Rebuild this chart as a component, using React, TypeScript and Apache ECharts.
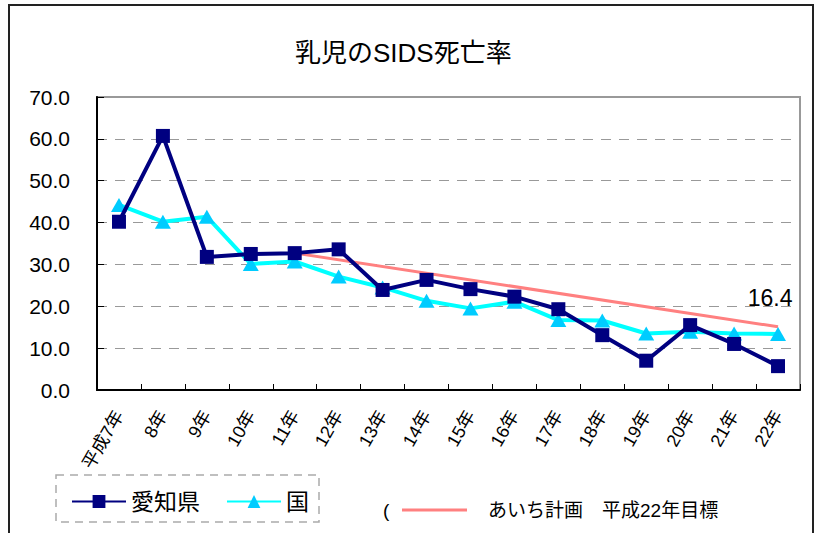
import React, { useEffect, useRef } from "react";
import * as echarts from "echarts";

const categories = ["平成7年", "8年", "9年", "10年", "11年", "12年", "13年", "14年", "15年", "16年", "17年", "18年", "19年", "20年", "21年", "22年"];
const aichi = [40.2, 60.7, 31.8, 32.5, 32.7, 33.6, 23.9, 26.3, 24.1, 22.3, 19.3, 13.1, 7.0, 15.5, 11.0, 5.7];
const national = [44.2, 40.2, 41.4, 30.1, 30.7, 27.1, 24.5, 21.3, 19.5, 21.1, 16.7, 16.6, 13.5, 13.9, 13.5, 13.4];
const target: (number | string)[] = ["-", "-", "-", "-", 32.7, "-", "-", "-", "-", "-", "-", "-", "-", "-", "-", 15.1];
const targetLabel = "16.4";
const yTicks = { min: 0, max: 70, interval: 10 };
const seriesNames = ["愛知県", "国"];
const targetName = "あいち計画　平成22年目標";

const FONT = "'Liberation Sans', 'Noto Sans CJK JP', sans-serif";

export default function App() {
  const ref = useRef<HTMLDivElement>(null);
  useEffect(() => {
    if (!ref.current) return;
    const chart = echarts.init(ref.current, null, { renderer: "svg" });
    const lastIdx = target.length - 1;
    chart.setOption({
      animation: false,
      backgroundColor: "#fff",
      textStyle: { fontFamily: FONT },
      title: {
        text: "乳児のSIDS死亡率",
        left: 290,
        top: 35,
        textStyle: { fontSize: 26, fontWeight: "normal", color: "#000", fontFamily: FONT },
      },
      grid: {
        left: 97,
        right: 20,
        top: 97,
        bottom: 143,
        show: true,
        borderColor: "#999",
        borderWidth: 2,
        outerBoundsMode: "none",
        containLabel: false,
      },
      legend: {
        data: seriesNames,
        left: 66,
        top: 485,
        itemWidth: 54,
        itemHeight: 16,
        itemGap: 26,
        textStyle: { fontSize: 23, color: "#000", fontFamily: FONT },
      },
      xAxis: {
        type: "category",
        data: categories,
        boundaryGap: true,
        axisLine: { lineStyle: { color: "#000", width: 2 } },
        axisTick: { show: true, inside: true, length: 6, lineStyle: { color: "#000" } },
        axisLabel: {
          interval: 0,
          rotate: 60,
          fontSize: 18,
          color: "#000",
          margin: 22,
          fontFamily: FONT,
        },
      },
      yAxis: {
        type: "value",
        min: yTicks.min,
        max: yTicks.max,
        interval: yTicks.interval,
        axisLine: { show: true, lineStyle: { color: "#000", width: 2 } },
        axisTick: { show: true, inside: true, length: 7, lineStyle: { color: "#000" } },
        axisLabel: {
          fontSize: 21,
          color: "#000",
          margin: 27,
          fontFamily: FONT,
          formatter: (v: number) => v.toFixed(1),
        },
        splitLine: { show: true, lineStyle: { color: "#999", type: [10, 8], width: 1 } },
      },
      series: [
        {
          name: targetName,
          type: "line",
          data: target,
          connectNulls: true,
          symbol: "none",
          lineStyle: { color: "#FF8080", width: 3 },
          itemStyle: { color: "#FF8080" },
          z: 1,
          markPoint: {
            symbol: "circle",
            symbolSize: 1,
            itemStyle: { color: "rgba(0,0,0,0)" },
            data: [
              {
                coord: [lastIdx, target[lastIdx]],
                label: {
                  show: true,
                  formatter: targetLabel,
                  position: "top",
                  distance: 5,
                  offset: [-8, -12],
                  fontSize: 23,
                  color: "#000",
                  fontFamily: FONT,
                },
              },
            ],
          },
        },
        {
          name: seriesNames[1],
          type: "line",
          data: national,
          symbol: "triangle",
          symbolSize: [16, 14],
          lineStyle: { color: "#00FFFF", width: 4 },
          itemStyle: { color: "#00CCFF", borderWidth: 0 },
          z: 2,
        },
        {
          name: seriesNames[0],
          type: "line",
          data: aichi,
          symbol: "rect",
          symbolSize: 14,
          lineStyle: { color: "#000080", width: 4 },
          itemStyle: { color: "#000080", borderWidth: 0 },
          z: 3,
        },
      ],
      graphic: [
        {
          type: "rect",
          shape: { x: 9, y: 5, width: 804, height: 540 },
          style: { fill: "none", stroke: "#222", lineWidth: 2 },
          silent: true,
        },
        {
          type: "rect",
          shape: { x: 56, y: 475, width: 263, height: 47 },
          style: { fill: "none", stroke: "#aaa", lineWidth: 1.5, lineDash: [8, 6] },
          silent: true,
        },
        {
          type: "text",
          x: 383,
          y: 510,
          style: { text: "(", fill: "#000", font: "19px " + FONT, textVerticalAlign: "middle" },
          silent: true,
        },
        {
          type: "line",
          shape: { x1: 402, y1: 510, x2: 467, y2: 510 },
          style: { stroke: "#FF8080", lineWidth: 3 },
          silent: true,
        },
        {
          type: "text",
          x: 488,
          y: 510,
          style: { text: targetName, fill: "#000", font: "19px " + FONT, textVerticalAlign: "middle" },
          silent: true,
        },
      ],
    });
    return () => chart.dispose();
  }, []);
  return <div ref={ref} style={{ position: "fixed", left: 0, top: 0, width: 820, height: 533 }} />;
}
